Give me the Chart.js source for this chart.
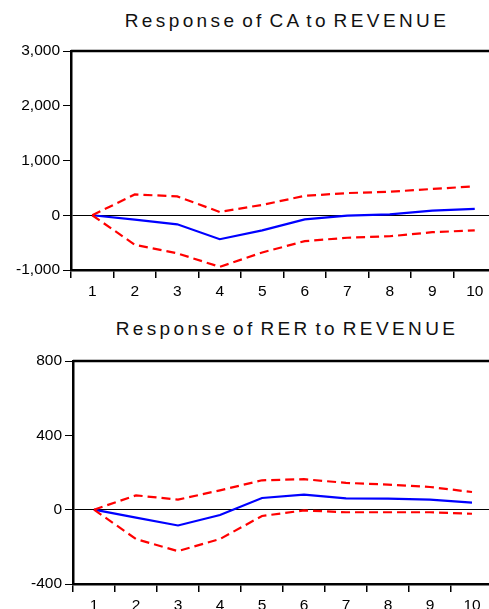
<!DOCTYPE html>
<html>
<head>
<meta charset="utf-8">
<script src="https://cdn.jsdelivr.net/npm/chart.js@4"></script>
<style>
    html, body { margin: 0; padding: 0; overflow: hidden; background: #fff; }
    body { width: 489px; height: 609px; position: relative; }
    .title {
        position: absolute; left: 0; width: 574px; text-align: center;
        font-family: "Liberation Sans", Arial, sans-serif; font-size: 19px;
        line-height: 19px; letter-spacing: 3.4px; word-spacing: -4px; color: #111;
        white-space: nowrap;
    }
    canvas { position: absolute; left: 0; }
</style>
</head>
<body>
<div class="title" style="top: 10.5px;">Response of CA to REVENUE</div>
<canvas id="caChart" width="496" height="300" style="top: 0;"></canvas>
<div class="title" style="top: 319px;">Response of RER to REVENUE</div>
<canvas id="rerChart" width="493" height="309" style="top: 300px;"></canvas>
<script>
// periods after the shock
const periods = ["1", "2", "3", "4", "5", "6", "7", "8", "9", "10"];

// CA response to REVENUE shock with +/- 2 s.e. bands
const caResponse = [0, -80, -165, -438, -276, -75, -6, 15, 86, 115];
const caUpper = [0, 380, 345, 60, 190, 354, 405, 430, 480, 528];
const caLower = [0, -538, -695, -942, -680, -473, -411, -384, -310, -276];

// RER response to REVENUE shock with +/- 2 s.e. bands
const rerResponse = [0, -43, -85, -29, 63, 81, 61, 59, 54, 38];
const rerUpper = [0, 77, 54, 104, 158, 164, 144, 135, 122, 95];
const rerLower = [0, -158, -223, -158, -34, -4, -14, -14, -14, -22];

// y tick settings for each panel
const caTicks = { min: -1000, max: 3000, step: 1000 };
const rerTicks = { min: -400, max: 800, step: 400 };

const fontFamily = '"Liberation Sans", Arial, sans-serif';

// draws the top edge of the plot frame
const framePlugin = {
    id: "frame",
    afterDraw(chart) {
        const { ctx, chartArea } = chart;
        ctx.save();
        ctx.strokeStyle = "#000";
        ctx.lineWidth = 2.5;
        ctx.beginPath();
        ctx.moveTo(chartArea.left, chartArea.top);
        ctx.lineTo(chartArea.right + 5, chartArea.top);
        ctx.stroke();
        ctx.restore();
    },
};

function makeChart(id, resp, upper, lower, ticks, dims) {
    const ctx = document.getElementById(id).getContext("2d");
    const band = (data) => ({
        data: data,
        borderColor: "#ff0000",
        borderWidth: 2.2,
        borderDash: [9, 5],
        pointRadius: 0,
        tension: 0,
        fill: false,
    });

    return new Chart(ctx, {
        type: "line",
        data: {
            labels: periods,
            datasets: [
                band(upper),
                band(lower),
                {
                    data: resp,
                    borderColor: "#0000ff",
                    borderWidth: 2.2,
                    pointRadius: 0,
                    tension: 0,
                    fill: false,
                },
            ],
        },
        options: {
            responsive: false,
            animation: false,
            devicePixelRatio: 1,
            layout: { padding: { top: dims.top, left: 0, right: 0, bottom: 0 } },
            plugins: {
                legend: { display: false },
                tooltip: { enabled: false },
            },
            scales: {
                x: {
                    offset: true,
                    grid: {
                        offset: true,
                        drawOnChartArea: false,
                        color: "#000",
                        lineWidth: 1.5,
                        tickLength: 8,
                    },
                    border: { color: "#000", width: 2.5 },
                    ticks: {
                        color: "#000",
                        padding: 4,
                        maxRotation: 0,
                        autoSkip: false,
                        font: { family: fontFamily, size: 15.5 },
                    },
                    afterFit(scale) {
                        scale.height = dims.xHeight;
                    },
                },
                y: {
                    min: ticks.min,
                    max: ticks.max,
                    grid: {
                        color: (c) => (c.tick && c.tick.value === 0 ? "#000" : "rgba(0,0,0,0)"),
                        tickColor: "#000",
                        lineWidth: 1,
                        tickLength: 8,
                    },
                    border: { color: "#000", width: 2.5 },
                    ticks: {
                        stepSize: ticks.step,
                        color: "#000",
                        padding: 3,
                        font: { family: fontFamily, size: 15.5 },
                        callback: (v) => v.toLocaleString("en-US"),
                    },
                    afterFit(scale) {
                        scale.width = dims.yWidth;
                    },
                },
            },
        },
        plugins: [framePlugin],
    });
}

makeChart("caChart", caResponse, caUpper, caLower, caTicks, { top: 51, xHeight: 30, yWidth: 71 });
makeChart("rerChart", rerResponse, rerUpper, rerLower, rerTicks, { top: 61, xHeight: 25, yWidth: 73 });
</script>
</body>
</html>
